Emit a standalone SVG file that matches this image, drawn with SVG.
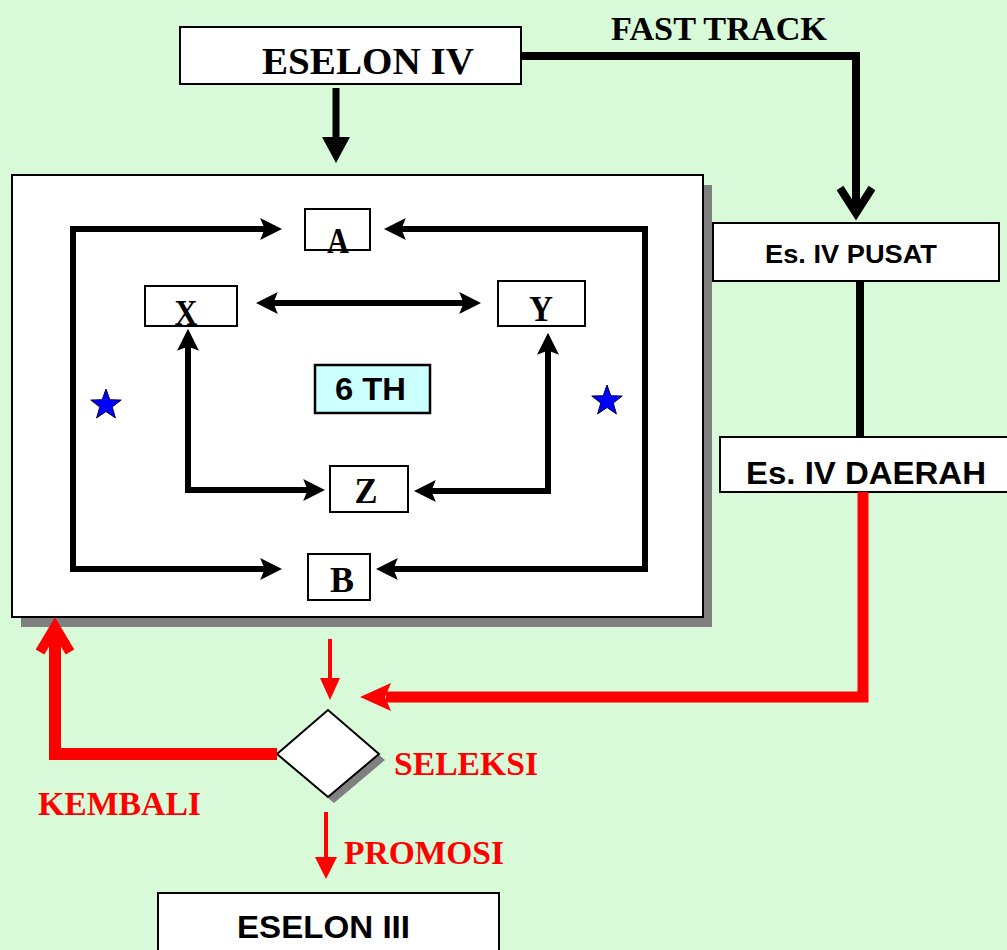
<svg xmlns="http://www.w3.org/2000/svg" width="1007" height="950" viewBox="0 0 1007 950">
<style>
.box{fill:#fff;stroke:#000;stroke-width:2}
.shadow{fill:#808080}
.serif{font-family:"Liberation Serif","Times New Roman",serif;font-weight:bold}
.sans{font-family:"Liberation Sans",Arial,sans-serif;font-weight:bold}
.blk{fill:none;stroke:#000;stroke-width:6;stroke-linejoin:miter}
.red{fill:none;stroke:#ff0000}
.lbl{fill:#ff0000}
</style>
<defs>
<marker id="ah" markerUnits="userSpaceOnUse" markerWidth="22" markerHeight="22" viewBox="0 0 20 20" refX="8" refY="10" orient="auto-start-reverse">
<path d="M0,0 L20,10 L0,20 L4,10 Z" fill="#000"/>
</marker>
<path id="star" d="M0,-16 L3.82,-5.26 L15.22,-4.94 L6.18,2.01 L9.4,12.94 L0,6.5 L-9.4,12.94 L-6.18,2.01 L-15.22,-4.94 L-3.82,-5.26 Z" fill="#0000ff" stroke="#000033" stroke-width="1"/>
</defs>
<rect x="0" y="0" width="1007" height="950" fill="#d8fad8"/>

<g id="frame">
<rect class="shadow" x="21" y="185" width="691" height="442"/>
<rect class="box" x="12" y="175" width="691" height="442"/>
</g>

<g id="eselon4">
<rect class="box" x="180" y="27" width="341" height="57"/>
<text class="serif" x="262" y="74" font-size="37" textLength="212" lengthAdjust="spacingAndGlyphs">ESELON IV</text>
</g>

<g id="fasttrack-label">
<text class="serif" x="611" y="40" font-size="33" textLength="216" lengthAdjust="spacingAndGlyphs">FAST TRACK</text>
</g>

<g id="pusat">
<rect class="box" x="713" y="223" width="286" height="58"/>
<text class="sans" x="765" y="263" font-size="26" textLength="172" lengthAdjust="spacingAndGlyphs">Es. IV PUSAT</text>
</g>

<g id="daerah">
<rect class="box" x="720" y="437" width="300" height="55"/>
<text class="sans" x="746" y="484" font-size="31" textLength="240" lengthAdjust="spacingAndGlyphs">Es. IV DAERAH</text>
</g>

<g id="nodeA">
<rect class="box" x="305" y="209" width="65" height="41"/>
<text class="serif" x="338" y="253" font-size="36" text-anchor="middle" textLength="22" lengthAdjust="spacingAndGlyphs">A</text>
</g>
<g id="nodeX">
<rect class="box" x="145" y="286" width="92" height="40"/>
<text class="serif" x="186" y="325" font-size="36" text-anchor="middle" textLength="23" lengthAdjust="spacingAndGlyphs">X</text>
</g>
<g id="nodeY">
<rect class="box" x="498" y="281" width="87" height="45"/>
<text class="serif" x="541" y="321" font-size="36" text-anchor="middle" textLength="24" lengthAdjust="spacingAndGlyphs">Y</text>
</g>
<g id="nodeZ">
<rect class="box" x="330" y="466" width="78" height="46"/>
<text class="serif" x="366" y="503" font-size="36" text-anchor="middle" textLength="23" lengthAdjust="spacingAndGlyphs">Z</text>
</g>
<g id="nodeB">
<rect class="box" x="308" y="554" width="62" height="46"/>
<text class="serif" x="342" y="592" font-size="36" text-anchor="middle" textLength="24" lengthAdjust="spacingAndGlyphs">B</text>
</g>
<g id="sixth">
<rect x="315" y="365" width="115" height="48" fill="#ccffff" stroke="#000" stroke-width="2.5"/>
<text class="sans" x="335" y="400" font-size="32" textLength="71" lengthAdjust="spacingAndGlyphs">6 TH</text>
</g>

<g id="stars">
<use href="#star" transform="translate(106,405)"/>
<use href="#star" transform="translate(607,401)"/>
</g>

<g id="seleksi">
<polygon points="283,760 334,716 385,760 334,803" class="shadow"/>
<polygon points="277,754 328,710 379,754 328,797" fill="#fff" stroke="#000" stroke-width="2"/>
<text class="serif lbl" x="394" y="775" font-size="34" textLength="144" lengthAdjust="spacingAndGlyphs">SELEKSI</text>
</g>

<g id="labels">
<text class="serif lbl" x="38" y="815" font-size="34" textLength="163" lengthAdjust="spacingAndGlyphs">KEMBALI</text>
<text class="serif lbl" x="344" y="864" font-size="34" textLength="160" lengthAdjust="spacingAndGlyphs">PROMOSI</text>
</g>

<g id="eselon3">
<rect class="box" x="158" y="893" width="341" height="75"/>
<text class="sans" x="237" y="938" font-size="32" textLength="173" lengthAdjust="spacingAndGlyphs">ESELON III</text>
</g>

<g id="connectors">
<path class="blk" d="M269,229 L73,229 L73,569 L269,569" marker-start="url(#ah)" marker-end="url(#ah)"/>
<path class="blk" d="M397,229 L645,229 L645,569 L389,569" marker-start="url(#ah)" marker-end="url(#ah)"/>
<path class="blk" d="M269,303 L468,303" marker-start="url(#ah)" marker-end="url(#ah)"/>
<path class="blk" d="M188,342 L188,490 L312,490" marker-start="url(#ah)" marker-end="url(#ah)"/>
<path class="blk" d="M548,346 L548,491 L427,491" marker-start="url(#ah)" marker-end="url(#ah)"/>

<line x1="336" y1="88" x2="336" y2="140" stroke="#000" stroke-width="7"/>
<polygon points="322,137 350,137 336,163" fill="#000"/>

<path d="M521,56 L856,56 L856,212" fill="none" stroke="#000" stroke-width="8"/>
<polyline points="840,188 856,213 872,188" fill="none" stroke="#000" stroke-width="8" stroke-linejoin="miter"/>

<line x1="860" y1="281" x2="860" y2="437" stroke="#000" stroke-width="8"/>

<path class="red" d="M863,492 L863,697 L386,697" stroke-width="11"/>
<polygon points="360,697 391,683 385,697 391,711" fill="#ff0000"/>

<line x1="330" y1="639" x2="330" y2="682" stroke="#ff0000" stroke-width="4"/>
<polygon points="320,678 340,678 330,700" fill="#ff0000"/>

<path class="red" d="M277,754 L55,754 L55,628" stroke-width="12"/>
<polyline points="40,652 55,627 70,652" fill="none" stroke="#ff0000" stroke-width="10" stroke-linejoin="miter"/>

<line x1="326" y1="812" x2="326" y2="861" stroke="#ff0000" stroke-width="4"/>
<polygon points="315,857 337,857 326,879" fill="#ff0000"/>
</g>
</svg>
